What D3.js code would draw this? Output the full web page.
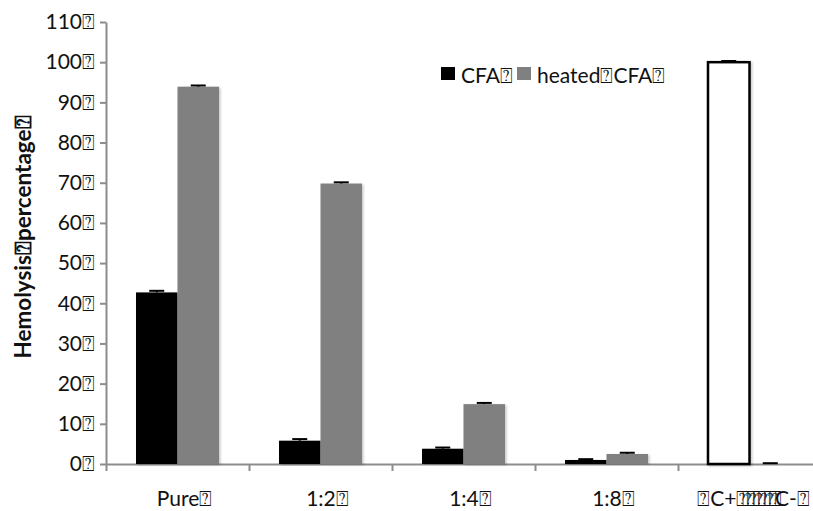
<!DOCTYPE html>
<html>
<head>
<meta charset="utf-8">
<script src="https://cdn.jsdelivr.net/npm/d3@7"></script>
<style>
  body { margin: 0; background: #fff; }
  svg { display: block; }
  text { font-family: Lato, "Open Sans", sans-serif; fill: #111; }
</style>
</head>
<body>
<svg id="chart" width="813" height="511"></svg>
<script>
// Placeholder glyph that the source labels carry for unrenderable characters
const Q = "\u2370";

const categories = ["Pure" + Q, "1:2" + Q, "1:4" + Q, "1:8" + Q, Q + "C+" + Q.repeat(7) + "C-" + Q];
const seriesNames = ["CFA" + Q, "heated" + Q + "CFA" + Q];
const cfaValues = [42.7, 5.8, 3.8, 1.0, 100];
const cfaErrors = [0.4, 0.4, 0.3, 0.2, 0.3];
const heatedValues = [93.9, 69.8, 14.9, 2.5, 0];
const heatedErrors = [0.3, 0.3, 0.3, 0.3, 0.2];
const yTicks = [0, 10, 20, 30, 40, 50, 60, 70, 80, 90, 100, 110];
const yTitle = "Hemolysis" + Q + "percentage" + Q;

const svg = d3.select("#chart");
const plotLeft = 106, plotRight = 821, plotTop = 22, plotBottom = 464;
const axisColor = "#8c8c8c";
const seriesColors = ["#000000", "#808080"];

const defs = svg.append("defs");
const f = defs.append("filter").attr("id", "shadow")
  .attr("x", "-20%").attr("y", "-5%").attr("width", "140%").attr("height", "110%");
f.append("feDropShadow").attr("dx", 1.5).attr("dy", 1).attr("stdDeviation", 1.3)
  .attr("flood-color", "#000").attr("flood-opacity", 0.22);

const x0 = d3.scaleBand().domain(categories).range([plotLeft, plotRight]).padding(0);
const groupW = 83;
const x1 = d3.scaleBand().domain([0, 1])
  .range([(x0.bandwidth() - groupW) / 2, (x0.bandwidth() + groupW) / 2]);
const y = d3.scaleLinear().domain([0, 110]).range([plotBottom, plotTop]);

// Y axis
const yAxis = svg.append("g").attr("transform", `translate(${plotLeft},0)`)
  .call(d3.axisLeft(y).tickValues(yTicks).tickSize(6).tickSizeOuter(0).tickPadding(5)
    .tickFormat(d => d + Q));
yAxis.select(".domain").attr("stroke", axisColor).attr("stroke-width", 2);
yAxis.selectAll(".tick line").attr("stroke", axisColor).attr("stroke-width", 2);
yAxis.selectAll(".tick text").style("font-size", "21px").attr("fill", "#111")
  .style("font-family", "Lato, 'Open Sans', sans-serif");

// X axis: category boundaries
const xb = d3.scaleLinear().domain([0, categories.length]).range([plotLeft, plotRight]);
const xAxis = svg.append("g").attr("transform", `translate(0,${plotBottom})`)
  .call(d3.axisBottom(xb).tickValues(d3.range(categories.length + 1)).tickSize(7)
    .tickSizeOuter(0).tickFormat(""));
xAxis.select(".domain").attr("stroke", axisColor).attr("stroke-width", 2);
xAxis.selectAll(".tick line").attr("stroke", axisColor).attr("stroke-width", 2);

// Category labels; long runs of placeholder glyphs are packed tightly together
const lab = svg.append("g").selectAll("text").data(categories).join("text")
  .attr("x", (d, i) => x0(d) + x0.bandwidth() / 2 + (i === categories.length - 1 ? 4 : 7))
  .attr("y", plotBottom + 42)
  .attr("text-anchor", "middle")
  .style("font-size", "21px");
lab.each(function (d) {
  const t = d3.select(this);
  const parts = d.split(/(\u2370{2,})/).filter(s => s.length);
  parts.forEach(p => {
    const ts = t.append("tspan").text(p);
    if (p.length > 1 && /^\u2370+$/.test(p)) {
      ts.style("letter-spacing", "-7.5px");
    }
  });
});

// Bars
const series = [
  { values: cfaValues, errors: cfaErrors },
  { values: heatedValues, errors: heatedErrors }
];
const last = categories.length - 1;
series.forEach((s, si) => {
  const g = svg.append("g");
  g.selectAll("rect").data(s.values).join("rect")
    .attr("x", (d, i) => x0(categories[i]) + x1(si))
    .attr("y", d => y(d))
    .attr("width", x1.bandwidth())
    .attr("height", d => y(0) - y(d))
    .attr("fill", (d, i) => (i === last && si === 0) ? "#ffffff" : seriesColors[si])
    .attr("stroke", (d, i) => (i === last && si === 0) ? "#000" : "none")
    .attr("stroke-width", 2.5)
    .attr("filter", d => d > 0 ? "url(#shadow)" : null);
});

// Error bars (positive side)
series.forEach((s, si) => {
  const g = svg.append("g").attr("stroke", "#000").attr("stroke-width", 2);
  s.values.forEach((v, i) => {
    const cx = x0(categories[i]) + x1(si) + x1.bandwidth() / 2;
    const yTop = y(v + s.errors[i]);
    g.append("line").attr("x1", cx).attr("x2", cx).attr("y1", y(v)).attr("y2", yTop);
    g.append("line").attr("x1", cx - 7.5).attr("x2", cx + 7.5).attr("y1", yTop).attr("y2", yTop);
  });
});

// Legend
const legend = svg.append("g");
const legendX = [441, 517];
seriesNames.forEach((n, i) => {
  legend.append("rect").attr("x", legendX[i]).attr("y", 67).attr("width", 14).attr("height", 13)
    .attr("fill", seriesColors[i]);
  legend.append("text").attr("x", legendX[i] + 20).attr("y", 83).text(n).style("font-size", "21px");
});

// Y title
svg.append("text")
  .attr("transform", `translate(31,237) rotate(-90)`)
  .attr("text-anchor", "middle")
  .style("font-size", "22.5px").style("font-weight", "bold")
  .text(yTitle);
</script>
</body>
</html>
